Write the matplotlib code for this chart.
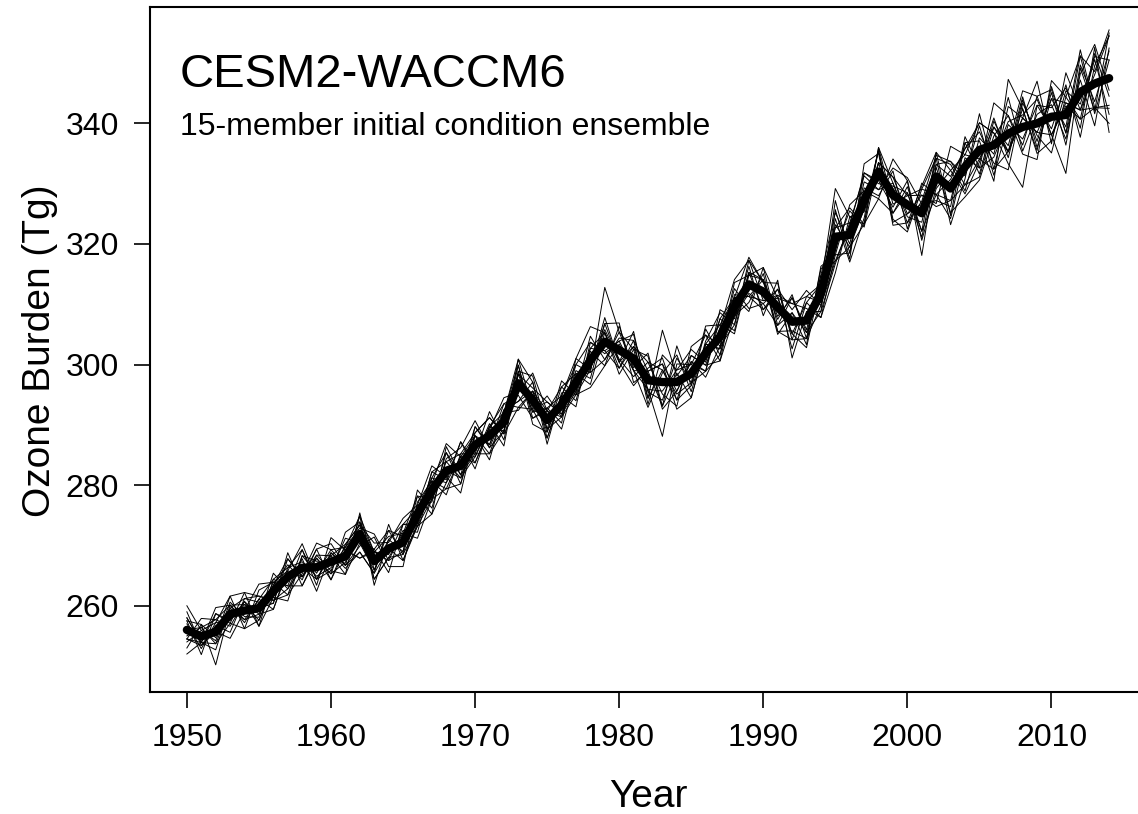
import numpy as np
import matplotlib
matplotlib.use("Agg")
import matplotlib.pyplot as plt

plt.rcParams['font.family'] = ['Liberation Sans', 'DejaVu Sans']

years = list(range(1950, 2015))

ensemble_mean = [
    256.0, 254.9, 255.7, 258.6, 259.2, 259.6, 262.4, 264.8, 266.3, 266.4,
    267.3, 268.2, 271.9, 267.4, 269.5, 270.5, 275.2, 279.2, 282.4, 283.2,
    286.7, 288.2, 290.5, 296.9, 294.1, 290.8, 293.3, 297.0, 300.7, 303.8,
    302.4, 301.0, 297.4, 297.1, 297.1, 298.5, 301.9, 304.6, 309.6, 313.3,
    312.1, 309.5, 307.1, 307.3, 311.8, 321.2, 321.5, 327.3, 332.0, 328.1,
    326.5, 325.1, 331.2, 329.2, 332.8, 335.6, 336.4, 338.3, 339.4, 340.0,
    341.1, 341.4, 345.2, 346.6, 347.5,
]

# departures of each ensemble member from the ensemble mean (Tg)
member_01 = [2.0, -1.0, -3.0, 1.5, 1.0, -2.0, 1.0, 3.0, -1.5, 2.0, 1.0, -3.0, 3.5, -1.5, 3.0,
             -2.0, 1.5, 4.0, -1.0, -4.5, 2.0, 3.0, -2.0, 4.0, -1.5, -3.0, 1.5, 4.0, 5.6, 1.5,
             -2.0, 4.5, -3.0, 8.6, 1.0, 3.0, -2.0, 1.5, 4.5, 4.0, -1.5, 2.0, -4.5, 3.0, 1.5,
             8.0, 3.0, -4.0, 4.0, 2.0, -3.0, 4.5, 4.0, -4.5, 4.0, 1.5, -6.0, 9.0, 3.0, -4.5,
             5.0, -3.0, 6.0, 2.0, 8.0]
member_02 = [-3.0, 2.0, -5.5, 1.0, -1.5, 1.5, -3.0, 1.0, 4.0, -2.0, -1.5, 3.0, -1.5, 2.0, -4.0,
             3.0, -2.0, 1.0, 4.5, 1.5, -3.0, 1.0, 4.0, -1.5, 4.5, 1.5, -4.0, 1.0, -2.0, 9.0,
             3.0, -1.5, 4.5, -4.0, 6.0, -2.0, 4.0, -3.0, 1.5, -4.5, 4.0, -3.0, 1.5, -4.0, 4.5,
             -3.0, 5.0, 1.5, -4.5, 6.0, 4.0, -7.0, 2.0, 4.5, -3.0, -4.5, 3.0, -2.0, 6.0, 4.5,
             -3.0, -9.7, 4.0, -4.5, 7.5]
member_03 = [1.0, -2.0, 1.5, 3.0, -3.0, 3.0, 1.5, -3.0, -1.0, 4.0, 2.0, -1.5, 3.0, -4.0, 1.5,
             -1.5, 4.0, -3.0, 2.0, 3.0, 4.0, -2.0, 1.5, 3.0, -4.0, -2.0, 3.0, -3.0, 2.0, -1.5,
             -3.0, 2.0, -1.5, -9.0, 3.0, 1.5, -3.0, 4.5, -2.0, 3.0, -4.0, 4.5, -6.0, 1.5, -3.0,
             4.5, -4.0, 6.0, 3.0, -4.5, -1.5, 3.0, -4.5, 7.0, 2.0, 4.5, 2.0, -5.0, -10.0, 3.0,
             1.5, 4.5, -6.0, 6.0, -9.0]
member_04 = [-1.5, 3.0, 2.0, -2.0, 1.5, -3.0, 2.0, 1.5, 3.0, -3.0, 4.0, 1.0, -4.0, 1.5, -2.0,
             2.0, -3.0, 1.5, -4.0, 2.0, -1.5, 4.0, -3.0, 1.5, 2.0, 3.0, -1.5, 2.0, -3.0, 3.0,
             4.5, -4.0, 1.5, 3.0, -4.5, -4.0, 1.5, -2.0, 4.0, 1.5, 2.0, -1.5, 4.0, -2.0, -3.0,
             -4.5, 2.0, 4.0, -3.0, 4.5, 4.5, 1.5, -4.0, -3.0, 5.0, -3.0, 7.0, 3.0, -4.5, -6.0,
             6.0, 3.0, 6.0, -5.0, 3.0]
member_05 = [3.0, -1.5, 1.0, -3.0, 2.0, 1.0, -2.0, 4.0, -3.0, 1.5, -3.0, 2.0, 1.5, 3.0, 1.0,
             4.0, 1.5, -2.0, 3.0, -3.0, 1.5, -4.0, 2.0, -3.0, 3.0, -4.0, 2.0, -1.5, 4.0, -3.0,
             2.0, 3.0, -4.0, 4.5, 2.0, 4.0, -1.5, 3.0, -4.0, 2.0, -3.0, 3.0, 2.0, 5.0, -2.0,
             3.0, -4.5, -3.0, 3.5, -4.0, -4.5, 4.0, 3.0, -6.0, -2.0, 6.0, -4.0, 4.5, 1.5, 7.0,
             -4.5, 7.0, -3.0, 4.0, -6.0]
member_06 = [-2.0, 1.0, -1.5, 2.0, -1.0, -1.5, 3.0, -2.0, 1.5, -4.0, 1.5, -2.0, -3.0, -2.0, 4.0,
             -3.0, -1.5, 3.0, -1.5, 4.0, -3.0, 1.5, -1.5, 3.0, -3.0, 2.0, -3.0, 4.0, -1.5, 2.0,
             -1.5, -3.0, 3.0, -2.0, -4.0, 4.5, 3.0, -4.0, -1.5, -3.0, 3.0, -4.0, -1.5, -3.0, 4.0,
             -2.0, 4.0, -4.5, 1.5, -3.0, 3.0, -3.0, 4.0, 3.0, -4.5, -2.0, 4.5, -4.0, 4.5, -3.0,
             4.0, -5.0, 4.5, -3.0, 4.5]
member_07 = [1.5, -3.0, 3.0, -1.5, 3.0, 2.0, -1.5, -3.0, 2.0, 1.0, -2.0, 4.0, 2.0, -3.0, -1.5,
             1.5, 3.0, -4.0, 4.0, -1.5, 3.0, -1.5, 3.0, -4.0, 1.5, -1.5, 4.0, -2.0, 1.5, -4.0,
             4.0, -2.0, -4.5, 1.5, 4.5, -3.0, 2.0, 4.0, -3.0, 4.0, 1.5, 4.0, -3.0, 4.0, -1.5,
             6.0, -3.0, 2.0, -4.0, 4.0, -4.0, 5.0, -3.0, 1.5, 3.0, 3.0, -3.0, -6.0, 4.0, -2.0,
             -6.0, 3.0, -4.5, 5.0, -3.0]
member_08 = [-1.0, 1.5, -2.0, -1.5, -3.0, -2.0, 1.0, 2.0, -2.0, 3.0, 3.0, -1.5, -2.0, 4.0, -3.0,
             -4.0, 2.0, 1.5, -3.0, 1.5, -2.0, 2.0, -4.0, 2.0, -2.0, 4.0, -2.0, 1.5, -4.0, 1.5,
             -4.0, 1.5, 4.0, -4.5, -1.5, 2.0, -4.0, -1.5, 3.0, -4.0, -2.0, -3.0, 4.0, -1.5, 3.0,
             -4.0, 1.5, 4.5, -2.0, 1.5, 2.0, -4.0, 1.5, -4.0, -5.0, -5.0, 1.5, 3.0, -3.0, 4.5,
             4.5, -3.0, 2.0, -7.0, 5.0]
member_09 = [4.0, 1.0, 1.5, -1.0, 1.5, -1.0, -3.0, 1.5, 1.0, -1.5, -1.0, 1.5, 3.0, 1.5, 2.0,
             1.5, -4.0, -1.5, 1.5, -2.0, 1.5, -3.0, 1.5, 4.0, 3.0, -3.0, 1.5, -4.0, 3.0, -2.0,
             1.5, 4.0, -2.0, -3.0, 4.0, -1.5, 4.5, 2.0, -4.5, 1.5, 4.0, 1.5, -2.0, -4.5, 2.0,
             2.0, -2.0, -1.5, 3.5, -5.0, -3.0, 2.0, 3.5, 4.5, -1.5, 4.0, -5.0, 1.5, -2.0, 3.0,
             -2.0, 5.0, -7.5, 3.0, 7.0]
member_10 = [-4.0, -1.0, 4.0, 1.5, -2.0, 1.5, 2.0, -1.5, -3.0, 2.0, -1.5, -3.0, -1.5, -1.5, 1.5,
             3.0, -1.5, 2.0, -2.0, 4.0, -4.0, 1.5, 3.0, -2.0, -3.0, 1.5, 3.0, 1.5, -1.5, 4.0,
             -2.0, -4.5, 2.0, 4.0, -3.0, 3.0, -2.0, -4.0, 2.0, -2.0, -3.0, 2.0, 3.0, 2.0, -4.0,
             -6.0, 3.0, -2.0, 1.5, 3.0, 1.5, 3.0, -5.0, -2.0, 4.0, -4.0, 4.0, -3.0, 5.0, -4.0,
             3.0, -2.0, 7.0, -4.0, -4.5]
member_11 = [1.5, 2.0, -1.0, 3.0, 3.0, -3.0, -1.0, -4.0, 2.0, -1.0, 2.0, 1.5, 1.0, 4.5, -2.0,
             -1.5, 3.0, -1.5, -3.0, -3.0, 3.0, -2.0, -1.5, 2.0, 4.0, -1.5, -2.0, 3.0, -2.0, -3.0,
             3.0, 1.5, -3.0, 2.0, -2.0, -1.5, -3.0, 3.0, 1.5, 4.5, 1.5, -2.0, 4.5, -3.0, 3.0,
             4.0, -1.5, 3.0, -3.0, 2.0, -2.0, -1.5, 3.0, 4.0, -4.0, 2.0, -1.5, 6.0, -4.0, 1.5,
             2.0, -4.0, 3.0, 6.5, -2.0]
member_12 = [-1.5, -1.5, 0.0, -4.0, 0.0, 4.0, 1.5, 1.0, -1.5, 3.0, -3.0, 1.0, -4.0, 2.0, 3.0,
             1.0, -1.5, 3.0, 1.5, 2.0, 2.0, 3.0, -2.0, -4.0, -1.5, 3.0, -1.5, -1.5, 2.0, 1.5,
             -3.0, 3.0, 1.5, -4.0, 1.5, -4.0, 1.5, -2.0, -1.5, -1.5, -2.0, 3.0, -2.0, 3.0, -4.0,
             -3.0, -3.0, 4.5, -1.5, -2.0, 4.0, -4.5, -2.0, 3.0, 2.0, -1.5, 3.0, -3.0, 3.0, -5.0,
             -4.0, 4.0, -2.0, 4.5, 3.0]
member_13 = [0.0, 1.5, 2.0, 1.5, -1.5, -1.0, 1.5, -1.5, 3.0, -2.0, 1.0, 2.0, 1.5, -3.0, -1.5,
             -2.0, -2.0, -4.0, -2.0, 1.5, 1.5, -1.5, 2.0, -3.0, 1.5, -2.0, 1.5, 3.0, 3.0, -1.5,
             1.5, -2.0, -1.5, -1.5, 2.0, 1.5, 3.0, -1.5, -3.0, 2.0, 2.0, -4.5, 1.5, -2.0, 1.5,
             1.5, 4.5, -4.0, 4.0, -1.5, 1.5, 4.0, -3.0, -5.0, 1.5, -3.0, -2.0, 2.0, 2.0, 4.0,
             -3.0, 1.5, -4.5, -4.0, -5.0]
member_14 = [2.0, -1.0, 3.0, -1.0, 1.0, 0.0, -2.0, 3.0, -1.5, 1.5, -2.0, -1.0, 2.0, 1.5, -1.0,
             3.0, 1.0, 2.0, 3.0, -1.5, -1.5, -3.0, -1.5, 1.5, -2.0, 2.0, 1.5, -2.0, -1.5, 3.0,
             -2.0, 2.0, 3.0, 2.0, -3.0, -2.0, 1.5, 2.0, 1.5, -2.0, -1.5, 1.5, 3.0, 4.0, 1.5,
             1.5, 2.0, -1.5, 1.5, 3.0, -1.5, 1.5, 2.0, 2.0, 3.0, 4.5, 2.0, -3.0, 1.5, -1.5,
             3.0, 2.0, -3.0, 1.5, 7.0]
member_15 = [-1.5, -1.0, -2.0, 1.0, 2.0, 2.0, -1.5, -2.0, 0.0, -2.0, 1.5, -1.5, -3.0, -2.0, 0.0,
             -3.0, -2.0, -1.5, 0.0, -2.0, -2.0, 1.5, 1.5, -4.5, 1.5, 1.5, -2.0, -2.0, -4.5, -4.0,
             1.0, -2.0, 1.5, 3.0, -1.5, 2.0, -3.0, -3.0, 1.5, -2.0, 2.0, -4.0, -3.0, -3.0, -2.0,
             -4.0, -2.0, -4.0, -4.5, -3.0, 2.0, -3.0, -3.0, -2.0, -3.0, -1.5, -4.0, -3.0, 1.5, -1.5,
             -3.0, 2.0, -3.0, -4.0, -7.5]

members = [member_01, member_02, member_03, member_04, member_05, member_06, member_07,
           member_08, member_09, member_10, member_11, member_12, member_13, member_14, member_15]

title = "CESM2-WACCM6"
subtitle = "15-member initial condition ensemble"
xticks = [1950, 1960, 1970, 1980, 1990, 2000, 2010]
yticks = [260, 280, 300, 320, 340]

W, H = 1138, 814
fig = plt.figure(figsize=(W / 100, H / 100), dpi=100)
fig.patch.set_facecolor('white')
ax = fig.add_axes([150 / W, 1 - 692 / H, (1146 - 150) / W, (692 - 7) / H])

mean_arr = np.array(ensemble_mean)
for dev in members:
    ax.plot(years, mean_arr + np.array(dev), color='black', lw=0.7, zorder=2)
ax.plot(years, ensemble_mean, color='black', lw=6.0, zorder=3,
        solid_joinstyle='round', solid_capstyle='round')

ax.set_xlim(1947.44, 2016.56)
ax.set_ylim(245.7, 359.3)
ax.set_xticks(xticks)
ax.set_yticks(yticks)
ax.tick_params(axis='both', direction='out', length=11.5, width=1.2, labelsize=23, pad=11)
for s in ax.spines.values():
    s.set_linewidth(1.5)
    s.set_color('black')

fig.text(180 / W, 1 - 87 / H, title, fontsize=34, va='baseline', ha='left')
fig.text(180 / W, 1 - 135 / H, subtitle, fontsize=23, va='baseline', ha='left')
fig.text(648 / W, 1 - 807 / H, "Year", fontsize=28, va='baseline', ha='center')
fig.text(50 / W, 1 - 351 / H, "Ozone Burden (Tg)", fontsize=28, va='baseline', ha='center',
         rotation=90, rotation_mode='anchor')

fig.savefig('out.png', dpi=100)
